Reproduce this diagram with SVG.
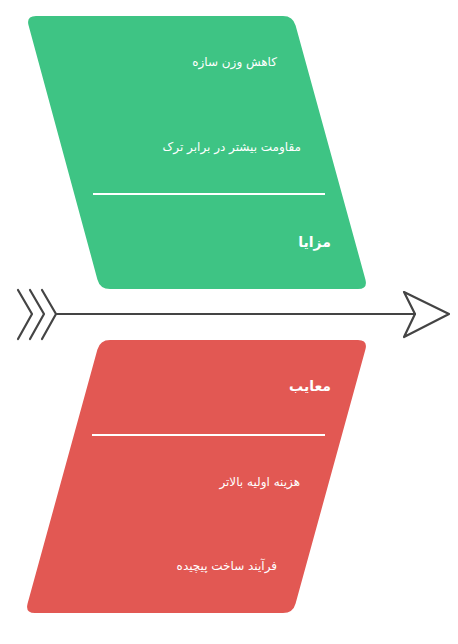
<svg xmlns="http://www.w3.org/2000/svg" width="458" height="644" viewBox="0 0 458 644">
<style>
.item{font-family:"DejaVu Sans","Noto Sans",sans-serif;font-size:12px;fill:#ffffff;text-anchor:end;dominant-baseline:central}
.title{font-family:"DejaVu Sans","Noto Sans",sans-serif;font-size:14px;font-weight:bold;fill:#ffffff;text-anchor:end;dominant-baseline:central}
.div{stroke:#ffffff;stroke-width:2}
.bone{fill:none;stroke:#444444;stroke-width:2.2;stroke-linecap:round;stroke-linejoin:round}
</style>
<rect width="458" height="644" fill="#ffffff"/>
<g id="connectors">
<line class="bone" x1="57" y1="314" x2="415" y2="314"/>
<path class="bone" d="M404,292 L449,314 L404,337 L415,314 Z"/>
<path class="bone" d="M18,290 L32,314 L18,339"/>
<path class="bone" d="M30,290 L44,314 L30,339"/>
<path class="bone" d="M42,290 L56,314 L42,339"/>
</g>
<g id="pros">
<path fill="#3ec484" d="M36,16 L283,16 Q293,16 295.6,25.6 L365.4,279.4 Q368,289 358,289 L110,289 Q100,289 97.4,279.4 L28.6,25.6 Q26,16 36,16 Z"/>
<text class="item" x="277" y="62">کاهش وزن سازه</text>
<text class="item" x="301" y="147">مقاومت بیشتر در برابر ترک</text>
<line class="div" x1="93" y1="194" x2="325" y2="194"/>
<text class="title" x="331" y="242">مزایا</text>
</g>
<g id="cons">
<path fill="#e25853" d="M110,340 L358,340 Q368,340 365.4,349.6 L295.6,603.4 Q293,613 283,613 L35,613 Q25,613 27.6,603.4 L97.4,349.6 Q100,340 110,340 Z"/>
<text class="title" x="331" y="386">معایب</text>
<line class="div" x1="92" y1="435" x2="325" y2="435"/>
<text class="item" x="300" y="482">هزینه اولیه بالاتر</text>
<text class="item" x="277" y="566">فرآیند ساخت پیچیده</text>
</g>
</svg>
